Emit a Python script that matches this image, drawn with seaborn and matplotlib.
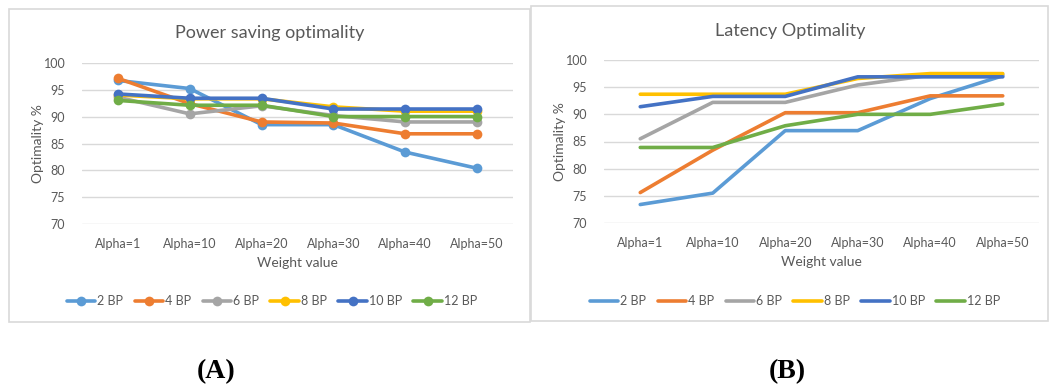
import matplotlib
matplotlib.use("Agg")
import matplotlib.pyplot as plt
import matplotlib.patches as mpatches
import seaborn as sns
import pandas as pd

# Weight values on the x axis
weights = ["Alpha=1", "Alpha=10", "Alpha=20", "Alpha=30", "Alpha=40", "Alpha=50"]
series_names = ["2 BP", "4 BP", "6 BP", "8 BP", "10 BP", "12 BP"]

# Power saving optimality (%)
power_2bp = [96.7, 95.2, 88.5, 88.5, 83.4, 80.4]
power_4bp = [97.1, 92.4, 89.0, 88.8, 86.8, 86.8]
power_6bp = [93.6, 90.5, 92.0, 90.2, 89.0, 89.0]
power_8bp = [94.0, 93.3, 93.3, 91.8, 91.0, 91.0]
power_10bp = [94.2, 93.4, 93.4, 91.4, 91.4, 91.4]
power_12bp = [93.0, 92.1, 92.1, 90.0, 90.0, 90.0]

# Latency optimality (%)
lat_2bp = [73.4, 75.5, 87.0, 87.0, 92.9, 97.1]
lat_4bp = [75.6, 83.4, 90.3, 90.3, 93.4, 93.4]
lat_6bp = [85.5, 92.2, 92.2, 95.4, 97.2, 97.3]
lat_8bp = [93.7, 93.7, 93.7, 96.6, 97.5, 97.5]
lat_10bp = [91.4, 93.3, 93.3, 96.9, 96.9, 96.9]
lat_12bp = [83.9, 83.9, 87.9, 90.0, 90.0, 91.9]

colors = ["#5B9BD5", "#ED7D31", "#A5A5A5", "#FFC000", "#4472C4", "#70AD47"]
text_gray = "#595959"
grid_gray = "#D9D9D9"


def long_frame(values):
    rows = []
    for name, vals in zip(series_names, values):
        for i, v in enumerate(vals):
            rows.append({"pos": i, "weight": weights[i], "series": name, "value": v})
    return pd.DataFrame(rows)


power_df = long_frame([power_2bp, power_4bp, power_6bp, power_8bp, power_10bp, power_12bp])
lat_df = long_frame([lat_2bp, lat_4bp, lat_6bp, lat_8bp, lat_10bp, lat_12bp])

sns.set_theme(style="white")
plt.rcParams["font.family"] = ["Lato", "DejaVu Sans"]

W, H = 1049, 389
fig = plt.figure(figsize=(W / 100, H / 100), dpi=100)


def fx(px):
    return px / W


def fy(py):
    return 1 - py / H


# Chart frames
for (x0, y0, x1, y1) in [(9, 9, 530, 322), (531, 6, 1048, 321)]:
    fig.patches.append(mpatches.Rectangle((fx(x0), fy(y1)), fx(x1 - x0), (y1 - y0) / H,
                                          transform=fig.transFigure, fill=False,
                                          edgecolor=grid_gray, linewidth=1.2))

ax_p = fig.add_axes([fx(82), fy(224.3), fx(513 - 82), (224.3 - 62.7) / H])
ax_l = fig.add_axes([fx(604), fy(223), fx(1039 - 604), (223 - 60) / H])


def style_axis(ax, df, markers):
    sns.lineplot(data=df, x="pos", y="value", hue="series", hue_order=series_names,
                 palette=colors, ax=ax, legend=False, linewidth=2.6,
                 marker="o" if markers else None, markersize=7, markeredgewidth=0)
    ax.set_xlim(-0.5, 5.5)
    ax.set_ylim(70, 100)
    ax.set_yticks(range(70, 101, 5))
    ax.set_xticks(range(len(weights)))
    ax.set_xticklabels(weights)
    for s in ax.spines.values():
        s.set_visible(False)
    ax.grid(axis="y", color=grid_gray, linewidth=1.0)
    ax.set_axisbelow(True)
    ax.tick_params(axis="both", length=0, labelsize=9, colors=text_gray)
    ax.tick_params(axis="y", pad=12)
    ax.tick_params(axis="x", pad=10)
    ax.set_xlabel("Weight value", fontsize=10, color=text_gray, labelpad=5)
    ax.set_ylabel("Optimality %", fontsize=10, color=text_gray, labelpad=0)


style_axis(ax_p, power_df, True)
style_axis(ax_l, lat_df, False)

fig.text(fx(270), fy(33), "Power saving optimality", ha="center", va="center",
         fontsize=13, color=text_gray)
fig.text(fx(790), fy(31), "Latency Optimality", ha="center", va="center",
         fontsize=13, color=text_gray)

for ax, cx in [(ax_p, 272), (ax_l, 795)]:
    handles = ax.get_lines()[:len(series_names)]
    fig.legend(handles, series_names, loc="center", bbox_to_anchor=(fx(cx), fy(301)),
               ncol=6, frameon=False, fontsize=9, handlelength=2.3, handletextpad=0.15,
               columnspacing=0.9, labelcolor=text_gray)

for cx, lab in [(216, "(A)"), (787, "(B)")]:
    fig.text(fx(cx), fy(372), lab, ha="center", va="center", fontsize=20,
             fontweight="bold", family="Liberation Serif", color="black")

fig.savefig("out.png", dpi=100)
